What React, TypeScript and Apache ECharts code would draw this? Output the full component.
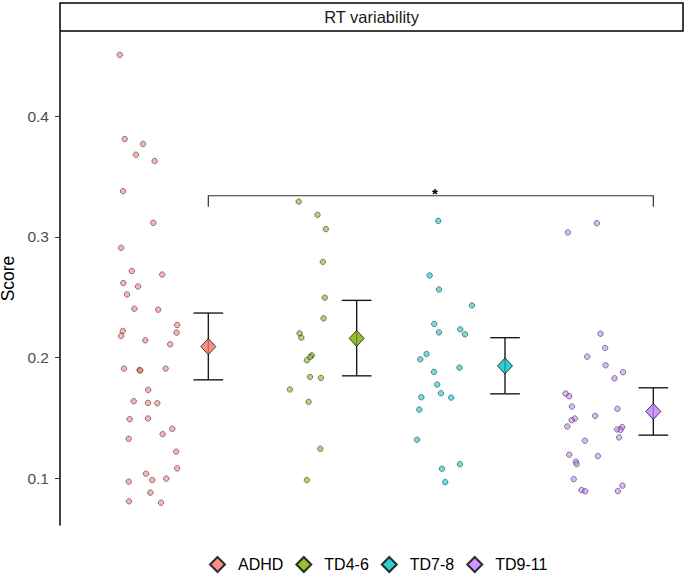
import React, { useEffect, useRef } from "react";
import * as echarts from "echarts";

const groups = ["ADHD", "TD4-6", "TD7-8", "TD9-11"];
const colors = ["#F8766D", "#7CAE00", "#00BFC4", "#C77CFF"];

const adhdX = [0.803, 0.836, 0.96, 0.912, 1.038, 0.825, 1.029, 0.812, 0.884, 1.089, 0.827, 0.926, 0.852, 0.901, 1.062, 1.19, 0.823, 1.186, 0.812, 0.975, 1.143, 0.832, 0.936, 0.941, 1.112, 0.995, 0.897, 0.993, 1.056, 0.87, 0.993, 1.157, 1.092, 0.863, 1.183, 1.19, 0.98, 1.022, 1.116, 0.863, 1.009, 0.865, 1.081];
const adhdY = [0.4507, 0.381, 0.3769, 0.368, 0.3628, 0.3378, 0.3116, 0.2909, 0.2717, 0.2688, 0.2617, 0.2589, 0.2523, 0.2405, 0.2397, 0.227, 0.2221, 0.2207, 0.2179, 0.2143, 0.211, 0.1909, 0.1897, 0.1893, 0.1909, 0.1733, 0.1639, 0.1625, 0.1622, 0.149, 0.1496, 0.1411, 0.1366, 0.1328, 0.1221, 0.1083, 0.1039, 0.0986, 0.0998, 0.0973, 0.0882, 0.081, 0.0799];

const td46X = [2.009, 2.136, 2.192, 2.172, 2.185, 2.177, 2.015, 2.027, 2.098, 2.087, 2.064, 2.085, 2.159, 1.95, 2.076, 2.155, 2.064];
const td46Y = [0.3292, 0.3182, 0.3064, 0.2793, 0.2496, 0.2325, 0.2201, 0.2165, 0.2019, 0.2006, 0.1978, 0.184, 0.1832, 0.1736, 0.1634, 0.1245, 0.0986];

const td78X = [2.95, 2.892, 2.955, 3.177, 2.923, 2.955, 3.098, 3.13, 2.871, 2.829, 2.921, 3.093, 2.943, 2.968, 2.836, 3.037, 2.822, 2.807, 3.096, 2.975, 2.997];
const td78Y = [0.3132, 0.268, 0.2564, 0.2432, 0.2279, 0.2209, 0.2234, 0.2193, 0.203, 0.1986, 0.1882, 0.1917, 0.1777, 0.1705, 0.1672, 0.1669, 0.157, 0.132, 0.1118, 0.108, 0.0969];

const td911X = [4.019, 3.824, 4.044, 4.075, 3.954, 4.078, 4.196, 4.138, 3.809, 3.833, 3.851, 4.158, 4.008, 3.871, 3.849, 3.82, 4.19, 4.156, 4.179, 4.169, 3.939, 3.833, 4.026, 3.878, 3.883, 3.863, 3.916, 3.941, 4.192, 4.161];
const td911Y = [0.3113, 0.3036, 0.2198, 0.208, 0.2008, 0.1937, 0.1879, 0.1829, 0.1702, 0.168, 0.1595, 0.1576, 0.1518, 0.1496, 0.1482, 0.143, 0.1424, 0.1405, 0.1402, 0.1339, 0.1312, 0.1196, 0.1185, 0.1138, 0.1118, 0.0994, 0.0903, 0.0893, 0.094, 0.0895];

const means = [0.2091, 0.2159, 0.1931, 0.1554];
const upper = [0.2369, 0.2474, 0.2165, 0.175];
const lower = [0.1816, 0.1849, 0.17, 0.1358];

const yTicks = [0.1, 0.2, 0.3, 0.4];
const bracketFrom = 0;
const bracketTo = 3;
const bracketY = 0.334;
const bracketTipY = 0.325;
const bracketLabel = "*";
const panelTitle = "RT variability";

const pointsX = [adhdX, td46X, td78X, td911X];
const pointsY = [adhdY, td46Y, td78Y, td911Y];
const MEAN_SHIFT = 0.4;
const FONT = "Liberation Sans, Arial, sans-serif";

export default function App() {
  const ref = useRef<HTMLDivElement>(null);
  useEffect(() => {
    document.body.style.margin = "0";
    const chart = echarts.init(ref.current!, null, { renderer: "svg" });

    const pointSeries = groups.map((g, i) => ({
      type: "scatter",
      name: g + " points",
      data: pointsX[i].map((x, j) => [x, pointsY[i][j]]),
      symbol: "circle",
      symbolSize: 5.5,
      z: 2,
      itemStyle: {
        color: colors[i],
        opacity: 0.55,
        borderColor: "#000",
        borderWidth: 0.8,
      },
      emphasis: { disabled: true },
    }));

    const errSeries = {
      type: "custom",
      name: "errorbars",
      z: 3,
      data: groups.map((_, i) => [i + 1 + MEAN_SHIFT, lower[i], upper[i]]),
      renderItem: (params: any, api: any) => {
        const x = api.value(0);
        const lo = api.value(1);
        const hi = api.value(2);
        const top = api.coord([x, hi]);
        const bot = api.coord([x, lo]);
        const hw = api.size([0.1, 0])[0];
        const st = { stroke: "#1a1a1a", lineWidth: 1.4 };
        return {
          type: "group",
          children: [
            { type: "line", shape: { x1: top[0], y1: top[1], x2: bot[0], y2: bot[1] }, style: st },
            { type: "line", shape: { x1: top[0] - hw, y1: top[1], x2: top[0] + hw, y2: top[1] }, style: st },
            { type: "line", shape: { x1: bot[0] - hw, y1: bot[1], x2: bot[0] + hw, y2: bot[1] }, style: st },
          ],
        };
      },
    };

    const bracketSeries = {
      type: "custom",
      name: "bracket",
      z: 3,
      data: [[bracketFrom + 1 + MEAN_SHIFT, bracketTo + 1 + MEAN_SHIFT, bracketY, bracketTipY]],
      renderItem: (params: any, api: any) => {
        const a = api.coord([api.value(0), api.value(2)]);
        const b = api.coord([api.value(1), api.value(2)]);
        const ta = api.coord([api.value(0), api.value(3)]);
        const st = { stroke: "#333", lineWidth: 1.2 };
        return {
          type: "group",
          children: [
            { type: "polyline", shape: { points: [[ta[0], ta[1]], [a[0], a[1]], [b[0], b[1]], [b[0], ta[1]]] }, style: { ...st, fill: "none" } },
            {
              type: "text",
              style: {
                text: bracketLabel,
                x: (a[0] + b[0]) / 2 + 4,
                y: a[1] + 5,
                fontSize: 15,
                fontWeight: "bold",
                fontFamily: FONT,
                fill: "#000",
                align: "center",
                verticalAlign: "bottom",
              },
            },
          ],
        };
      },
    };

    const meanSeries = groups.map((g, i) => ({
      type: "scatter",
      name: g,
      data: [[i + 1 + MEAN_SHIFT, means[i]]],
      symbol: "diamond",
      symbolSize: [15, 16],
      z: 4,
      itemStyle: { color: colors[i], borderColor: "#000", borderWidth: 0.9 },
      emphasis: { disabled: true },
    }));

    chart.setOption({
      animation: false,
      grid: { left: 60, right: 2, top: 32, bottom: 57, outerBoundsMode: "none", containLabel: false },
      xAxis: {
        type: "value",
        min: 0.4,
        max: 4.6,
        show: false,
      },
      yAxis: {
        type: "value",
        min: 0.0614,
        max: 0.4696,
        name: "Score",
        nameLocation: "middle",
        nameGap: 40,
        nameTextStyle: { fontSize: 17.5, color: "#000", fontFamily: FONT },
        axisLine: { show: true, lineStyle: { color: "#000", width: 1.5 } },
        axisTick: { show: true, length: 5, lineStyle: { color: "#333" }, customValues: yTicks },
        axisLabel: {
          customValues: yTicks,
          formatter: (v: number) => v.toFixed(1),
          fontSize: 15.5,
          color: "#4D4D4D",
          margin: 11,
          fontFamily: FONT,
        },
        splitLine: { show: false },
      },
      legend: {
        data: groups,
        bottom: 4,
        left: 204,
        icon: "diamond",
        itemWidth: 15,
        itemHeight: 15,
        itemGap: 12,
        textStyle: { fontSize: 16, color: "#000", fontFamily: FONT, padding: [0, 0, 0, 8] },
        selectedMode: false,
      },
      graphic: [
        {
          type: "rect",
          shape: { x: 60, y: 3, width: 623, height: 28 },
          style: { fill: "#fff", stroke: "#000", lineWidth: 1.5 },
          z: 10,
        },
        {
          type: "text",
          x: 371.5,
          y: 17,
          style: {
            text: panelTitle,
            fontSize: 16.5,
            fontFamily: FONT,
            fill: "#1a1a1a",
            align: "center",
            verticalAlign: "middle",
          },
          z: 11,
        },
      ],
      series: [...pointSeries, errSeries, bracketSeries, ...meanSeries],
    });
    return () => chart.dispose();
  }, []);
  return <div ref={ref} style={{ width: 685, height: 582 }} />;
}
